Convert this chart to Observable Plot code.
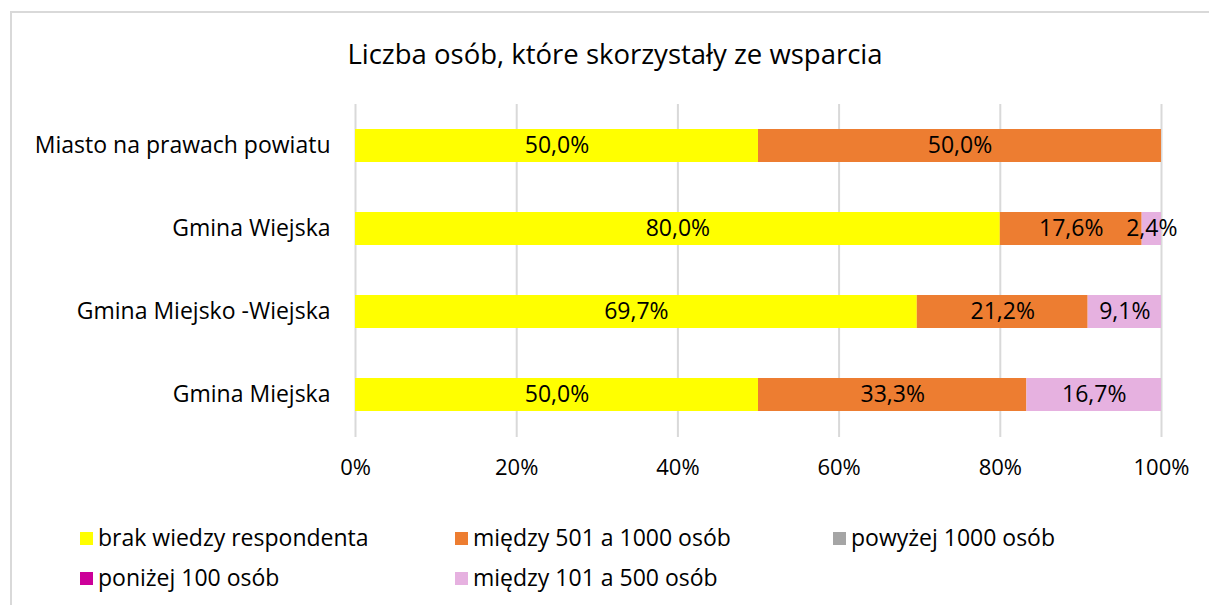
<!DOCTYPE html>
<html>
<head>
<meta charset="utf-8">
<script src="https://cdn.jsdelivr.net/npm/d3@7"></script>
<script src="https://cdn.jsdelivr.net/npm/@observablehq/plot@0.6"></script>
<style>
  html, body { margin: 0; padding: 0; background: #fff; }
  #wrap { position: relative; width: 1209px; height: 605px; overflow: hidden; font-family: "Open Sans", Lato, sans-serif; color: #000; }
  #frame { position: absolute; left: 10px; top: 11px; width: 1250px; height: 700px; border-left: 2px solid #d9d9d9; border-top: 2px solid #d9d9d9; }
  #title { position: absolute; left: 0; width: 1230px; top: 36px; text-align: center; font-size: 27.5px; line-height: 36px; }
  #chart { position: absolute; left: 0; top: 0; }
  .lg { position: absolute; font-size: 23px; line-height: 28px; white-space: nowrap; }
  .lg span.sw { display: inline-block; width: 13px; height: 13px; margin-right: 5px; vertical-align: 1px; }
</style>
</head>
<body>
<div id="wrap">
  <div id="frame"></div>
  <div id="title">Liczba osób, które skorzystały ze wsparcia</div>
  <div id="chart"></div>
  <div id="legend"></div>
</div>
<script>
const categories = ["Miasto na prawach powiatu", "Gmina Wiejska", "Gmina Miejsko -Wiejska", "Gmina Miejska"];
const seriesNames = ["brak wiedzy respondenta", "między 501 a 1000 osób", "powyżej 1000 osób", "poniżej 100 osób", "między 101 a 500 osób"];
const seriesColors = ["#FFFF00", "#ED7D31", "#A5A5A5", "#CC0099", "#E6B1E0"];
// values per category, in series order
const brakWiedzy = [50.0, 80.0, 69.7, 50.0];
const miedzy501_1000 = [50.0, 17.6, 21.2, 33.3];
const powyzej1000 = [0, 0, 0, 0];
const ponizej100 = [0, 0, 0, 0];
const miedzy101_500 = [0, 2.4, 9.1, 16.7];
const xTicks = [0, 20, 40, 60, 80, 100];

const seriesValues = [brakWiedzy, miedzy501_1000, powyzej1000, ponizej100, miedzy101_500];
const data = [];
categories.forEach((c, ci) => {
  seriesNames.forEach((s, si) => {
    const v = seriesValues[si][ci];
    if (v > 0) data.push({cat: c, series: s, value: v});
  });
});
const fmt = v => v.toFixed(1).replace(".", ",") + "%";

const plot = Plot.plot({
  width: 1209,
  height: 500,
  marginLeft: 355,
  marginRight: 48,
  marginTop: 104,
  marginBottom: 63,
  style: {fontFamily: "'Open Sans', Lato, sans-serif", fontSize: "23px", color: "#000", background: "transparent"},
  x: {domain: [0, 100], ticks: xTicks, tickFormat: d => d + "%", tickSize: 0, tickPadding: 22, label: null},
  y: {domain: categories, paddingInner: 0.6, paddingOuter: 0.3, tickSize: 0, tickPadding: 25, label: null},
  color: {domain: seriesNames, range: seriesColors},
  marks: [
    Plot.ruleX(xTicks, {stroke: "#d9d9d9", strokeWidth: 2}),
    Plot.barX(data, Plot.stackX({x: "value", y: "cat", fill: "series", z: "series", order: null})),
    Plot.text(data, Plot.stackX({x: "value", y: "cat", z: "series", order: null, text: d => fmt(d.value), fill: "#000", fontSize: 23})),
    Plot.axisX({ticks: xTicks, tickFormat: d => d + "%", tickSize: 0, tickPadding: 22, fontSize: 22, anchor: "bottom"}),
    Plot.axisY({tickSize: 0, tickPadding: 25, fontSize: 23, anchor: "left"})
  ]
});
document.getElementById("chart").appendChild(plot);

// legend
const legendPos = [
  [80, 538], [455, 538], [833, 538],
  [80, 578], [455, 578]
];
const lg = document.getElementById("legend");
seriesNames.forEach((s, i) => {
  const d = document.createElement("div");
  d.className = "lg";
  d.style.left = legendPos[i][0] + "px";
  d.style.top = (legendPos[i][1] - 15) + "px";
  d.innerHTML = `<span class="sw" style="background:${seriesColors[i]}"></span>${s}`;
  lg.appendChild(d);
});
</script>
</body>
</html>
